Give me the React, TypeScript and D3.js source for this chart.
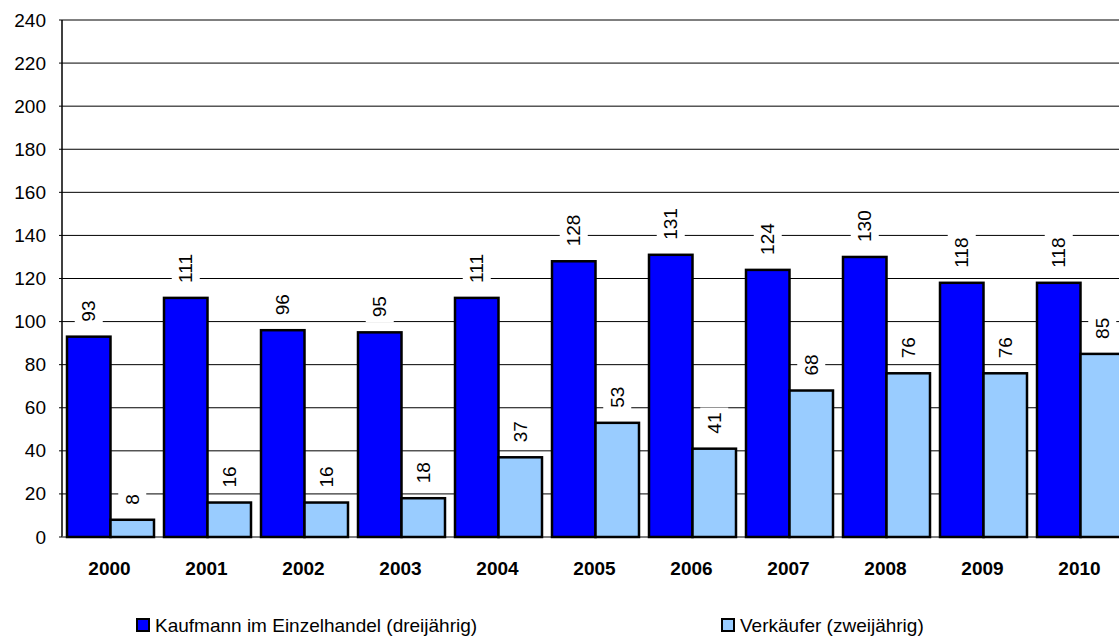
import React from "react";
import * as d3 from "d3";

const years = ["2000", "2001", "2002", "2003", "2004", "2005", "2006", "2007", "2008", "2009", "2010"];
const kaufmann = [93, 111, 96, 95, 111, 128, 131, 124, 130, 118, 118];
const verkaeufer = [8, 16, 16, 18, 37, 53, 41, 68, 76, 76, 85];
const yTicks = [0, 20, 40, 60, 80, 100, 120, 140, 160, 180, 200, 220, 240];
const seriesNames = ["Kaufmann im Einzelhandel (dreijährig)", "Verkäufer (zweijährig)"];
const seriesColors = ["#0000FF", "#99CCFF"];

const W = 1119;
const H = 639;
const FONT = "'Liberation Sans', Arial, sans-serif";

export default function App() {
  const left = 62;
  const step = 97;
  const x = d3.scaleBand<string>().domain(years).range([left, left + step * years.length]).paddingInner(0).paddingOuter(0);
  const y = d3.scaleLinear().domain([0, 240]).range([537, 20]);
  const inner = d3.scaleBand<number>().domain([0, 1]).range([0, x.bandwidth()]).paddingOuter(0.115).paddingInner(0);

  const fs = 19;
  const series = [kaufmann, verkaeufer];

  const labelEls: React.ReactNode[] = [];
  const barEls: React.ReactNode[] = [];
  series.forEach((vals, si) => {
    vals.forEach((v, i) => {
      const bx = (x(years[i]) as number) + (inner(si) as number);
      const bw = inner.bandwidth();
      const top = y(v);
      barEls.push(
        <rect key={`b${si}-${i}`} x={bx} y={top} width={bw} height={y(0) - top}
          fill={seriesColors[si]} stroke="#000" strokeWidth={2.5} />
      );
      const cx = bx + bw / 2;
      const txt = String(v);
      const L = txt.length * 0.556 * fs;
      const sy = top - 15;
      labelEls.push(
        <g key={`l${si}-${i}`} transform={`translate(${cx},${sy}) rotate(-90)`}>
          <rect x={-5} y={-14} width={L + 10} height={28} fill="#fff" />
          <text x={0} y={0} dominantBaseline="central" fontSize={fs} fontFamily={FONT} fill="#000">{txt}</text>
        </g>
      );
    });
  });

  return (
    <svg width={W} height={H} style={{ position: "fixed", left: 0, top: 0, background: "#fff" }}>
      <rect x={0} y={0} width={W} height={H} fill="#fff" />
      {yTicks.filter(t => t > 0).map(t => (
        <line key={`g${t}`} x1={left} x2={W} y1={y(t)} y2={y(t)} stroke="#000" strokeWidth={1} />
      ))}
      {yTicks.map(t => (
        <g key={`t${t}`}>
          <line x1={left - 3} x2={left} y1={y(t)} y2={y(t)} stroke="#000" strokeWidth={1} />
          <text x={46} y={y(t)} dominantBaseline="central" textAnchor="end" fontSize={fs} fontFamily={FONT} fill="#000">{t}</text>
        </g>
      ))}
      <line x1={left} x2={left} y1={y(240)} y2={y(0)} stroke="#000" strokeWidth={1.5} />
      <line x1={left} x2={W} y1={y(0)} y2={y(0)} stroke="#555" strokeWidth={1.5} />
      {labelEls}
      {barEls}
      {years.map(yr => (
        <text key={`x${yr}`} x={(x(yr) as number) + x.bandwidth() / 2 - 1} y={575} textAnchor="middle"
          fontSize={fs} fontWeight="bold" fontFamily={FONT} fill="#000">{yr}</text>
      ))}
      {seriesNames.map((n, i) => {
        const lx = i === 0 ? 137 : 722;
        return (
          <g key={`lg${i}`}>
            <rect x={lx} y={619} width={12} height={12} fill={seriesColors[i]} stroke="#000" strokeWidth={2} />
            <text x={lx + 18} y={632} fontSize={fs} fontFamily={FONT} fill="#000">{n}</text>
          </g>
        );
      })}
    </svg>
  );
}
